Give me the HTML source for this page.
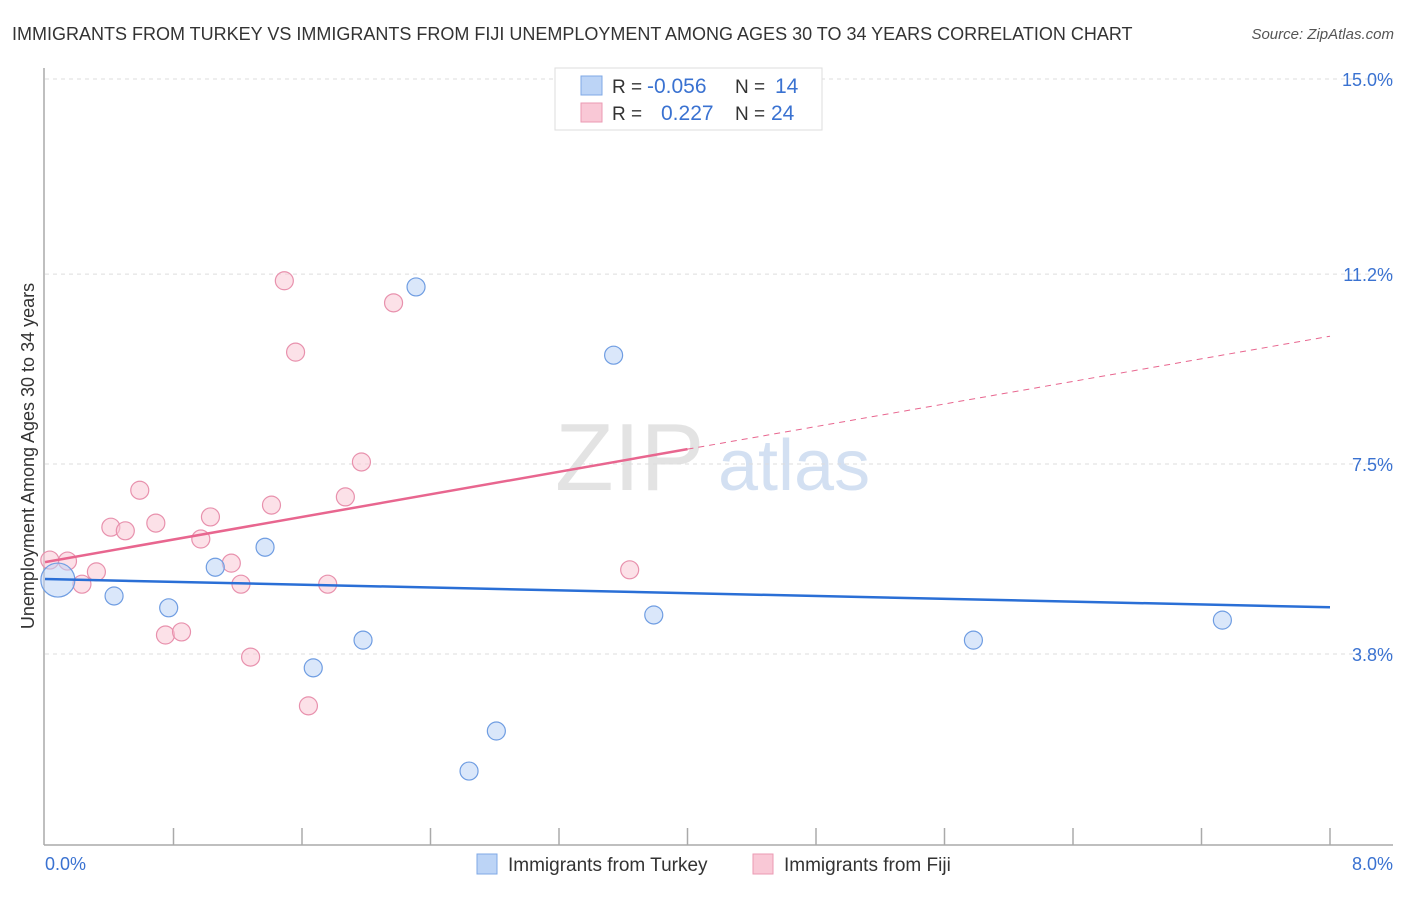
<!DOCTYPE html>
<html><head><meta charset="utf-8"><style>
body{margin:0;background:#fff;font-family:"Liberation Sans",sans-serif;}
svg text{font-family:"Liberation Sans",sans-serif;}
</style></head><body>
<svg width="1406" height="892" xmlns="http://www.w3.org/2000/svg">
<text x="12" y="40" font-size="18" fill="#333">IMMIGRANTS FROM TURKEY VS IMMIGRANTS FROM FIJI UNEMPLOYMENT AMONG AGES 30 TO 34 YEARS CORRELATION CHART</text>
<text x="1394" y="39" font-size="15" fill="#555" text-anchor="end" font-style="italic">Source: ZipAtlas.com</text>
<g>
<text x="555" y="490" font-size="96" fill="#ddd" font-family="Liberation Serif" opacity="0.8">ZIP</text>
<text x="718" y="490" font-size="72" fill="#c9d9ef" opacity="0.8">atlas</text>
</g>
<g id="grid"></g>
<g id="axes"></g>
<g id="marks"></g>
<text transform="translate(34,456) rotate(-90)" font-size="18" fill="#333" text-anchor="middle">Unemployment Among Ages 30 to 34 years</text>
<text x="45" y="870" font-size="18" fill="#3a72d1">0.0%</text>
<text x="1393" y="870" font-size="18" fill="#3a72d1" text-anchor="end">8.0%</text>
<g>
<rect x="555" y="68" width="267" height="62" fill="#fff" stroke="#ddd"/>
<rect x="581" y="76" width="21" height="19" fill="#bcd4f6" stroke="#7fa8e6"/>
<rect x="581" y="103" width="21" height="19" fill="#f9c8d6" stroke="#eb9ab3"/>
<text x="612" y="93" font-size="19" fill="#333">R =</text>
<text x="647" y="93" font-size="21" fill="#3a72d1">-0.056</text>
<text x="735" y="93" font-size="19" fill="#333">N =</text>
<text x="775" y="93" font-size="21" fill="#3a72d1">14</text>
<text x="612" y="120" font-size="19" fill="#333">R =</text>
<text x="661" y="120" font-size="21" fill="#3a72d1">0.227</text>
<text x="735" y="120" font-size="19" fill="#333">N =</text>
<text x="771" y="120" font-size="21" fill="#3a72d1">24</text>
</g>
<g>
<rect x="477" y="854" width="20" height="20" fill="#bcd4f6" stroke="#7fa8e6"/>
<text x="508" y="871" font-size="19" fill="#333">Immigrants from Turkey</text>
<rect x="753" y="854" width="20" height="20" fill="#f9c8d6" stroke="#eb9ab3"/>
<text x="784" y="871" font-size="19" fill="#333">Immigrants from Fiji</text>
</g>
</svg>
<script>
const yTicks=[15.0,11.2,7.5,3.8];
const yTickLabels=["15.0%","11.2%","7.5%","3.8%"];
const turkeyX=[0.08,0.43,0.77,1.06,1.37,1.67,1.98,2.31,2.64,2.81,3.54,3.79,5.78,7.33];
const turkeyY=[5.24,4.93,4.70,5.49,5.88,3.53,4.07,10.95,1.52,2.30,9.62,4.56,4.07,4.46];
const turkeySize=[17,9,9,9,9,9,9,9,9,9,9,9,9,9];
const fijiX=[0.03,0.14,0.23,0.32,0.41,0.50,0.59,0.69,0.75,0.85,0.97,1.03,1.16,1.22,1.28,1.41,1.49,1.56,1.64,1.76,1.87,1.97,2.17,3.64];
const fijiY=[5.63,5.61,5.16,5.40,6.27,6.20,6.99,6.35,4.17,4.23,6.04,6.47,5.57,5.16,3.74,6.70,11.07,9.68,2.79,5.16,6.86,7.54,10.64,5.44];
const turkeyTrend=[5.26,4.71]; // values at x=0 and x=8
const fijiTrend=[5.59,9.99];   // values at x=0 and x=8
const fijiSolidEnd=4.0;
const X0=45,X1=1330,Y0=79;
const xs=v=>X0+v*(X1-X0)/8;
const ys=v=>Y0+(15-v)*51.34;
const NS="http://www.w3.org/2000/svg";
function mk(tag,parent,attrs){const e=document.createElementNS(NS,tag);for(const k in attrs)e.setAttribute(k,attrs[k]);parent.appendChild(e);return e;}
const grid=document.getElementById('grid'),axes=document.getElementById('axes'),marks=document.getElementById('marks');
yTicks.forEach((t,i)=>{
 const l=mk('line',grid,{x1:45,x2:1393,y1:ys(t),y2:ys(t),stroke:'#ddd','stroke-dasharray':'4,4'});
 
 
 const tx=mk('text',grid,{x:1393,y:ys(t)+7,'font-size':18,fill:'#3a72d1','text-anchor':'end'});
 tx.textContent=yTickLabels[i];
 
 
});
mk('line',axes,{x1:44,x2:44,y1:68,y2:845,stroke:'#aaa','stroke-width':1.5});
mk('line',axes,{x1:44,x2:1393,y1:845,y2:845,stroke:'#aaa','stroke-width':1.5});
for(let i=1;i<=10;i++){const x=xs(i*0.8);mk('line',axes,{x1:x,x2:x,y1:828,y2:845,stroke:'#aaa','stroke-width':1.5});}
function dots(X,Y,S,fill,stroke,name){
 X.forEach((x,i)=>{
  const c=mk('circle',marks,{cx:xs(x),cy:ys(Y[i]),r:S?S[i]:9,fill:fill,stroke:stroke,'stroke-width':1.2,'fill-opacity':0.55});
  
  
 });
}
dots(fijiX,fijiY,null,'#f9c8d6','#e891ad','fiji-point');
dots(turkeyX,turkeyY,turkeySize,'#bcd4f6','#6f9de2','turkey-point');
const tl=mk('line',marks,{x1:xs(0),y1:ys(turkeyTrend[0]),x2:xs(8),y2:ys(turkeyTrend[1]),stroke:'#2a6fd6','stroke-width':2.5});


const fv=v=>fijiTrend[0]+(fijiTrend[1]-fijiTrend[0])*v/8;
const fl=mk('line',marks,{x1:xs(0),y1:ys(fv(0)),x2:xs(fijiSolidEnd),y2:ys(fv(fijiSolidEnd)),stroke:'#e8668f','stroke-width':2.5});


const fd=mk('line',marks,{x1:xs(fijiSolidEnd),y1:ys(fv(fijiSolidEnd)),x2:xs(8),y2:ys(fv(8)),stroke:'#e8668f','stroke-width':1,'stroke-dasharray':'6,5'});


</script>
</body></html>
